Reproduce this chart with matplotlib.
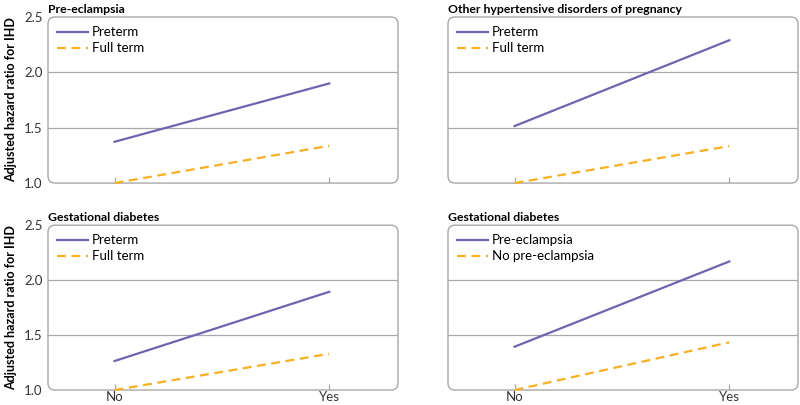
import matplotlib.pyplot as plt
from matplotlib.patches import FancyBboxPatch

plt.rcParams['font.family'] = ['Lato', 'DejaVu Sans']

groups = ["No", "Yes"]
titles = ["Pre-eclampsia", "Other hypertensive disorders of pregnancy",
          "Gestational diabetes", "Gestational diabetes"]
labels_a = ["Preterm", "Preterm", "Preterm", "Pre-eclampsia"]
labels_b = ["Full term", "Full term", "Full term", "No pre-eclampsia"]
series_a = [[1.373, 1.90], [1.515, 2.29], [1.264, 1.894], [1.394, 2.17]]
series_b = [[1.0, 1.337], [1.0, 1.334], [1.0, 1.33], [1.0, 1.434]]
yticks = [1.0, 1.5, 2.0, 2.5]

purple = "#7262b0"
orange = "#f7b024"
grey = "#a8a8a8"

fig = plt.figure(figsize=(8, 4.05), dpi=100)
pos = [
    [0.06, 0.548, 0.4375, 0.41],
    [0.56, 0.548, 0.4375, 0.41],
    [0.06, 0.037, 0.4375, 0.407],
    [0.56, 0.037, 0.4375, 0.407],
]

for k in range(4):
    ax = fig.add_axes(pos[k])
    x = range(len(groups))
    ax.plot(x, series_a[k], color=purple, lw=1.6, label=labels_a[k], clip_on=False, zorder=3)
    ax.plot(x, series_b[k], color=orange, lw=1.6, ls=(0, (4, 2.5)), label=labels_b[k], clip_on=False, zorder=3)
    ax.set_xlim(-0.31, 1.32)
    ax.set_ylim(1.0, 2.5)
    for s in ax.spines.values():
        s.set_visible(False)
    w = pos[k][2] * 800
    h = pos[k][3] * 405
    box = FancyBboxPatch((0, 0), 1, 1, boxstyle="round,pad=0,rounding_size=0.02",
                         mutation_aspect=w / h, transform=ax.transAxes,
                         facecolor="none", edgecolor=grey, lw=1.0, clip_on=False, zorder=2)
    ax.add_patch(box)
    for g in [1.5, 2.0]:
        ax.axhline(g, color=grey, lw=0.9, zorder=1)
    ax.set_xticks(list(x))
    ax.tick_params(axis='x', direction='in', length=4, color=grey, width=0.9,
                   labelsize=9.5, labelcolor="#333333", pad=1)
    if k < 2:
        ax.set_xticklabels([])
    else:
        ax.set_xticklabels(groups)
    ax.set_yticks(yticks)
    if k % 2 == 0:
        ax.set_yticklabels([f"{v:.1f}" for v in yticks])
        ax.tick_params(axis='y', length=0, labelsize=9.5, labelcolor="#333333", pad=4)
        ax.set_ylabel("Adjusted hazard ratio for IHD", fontsize=9, fontweight='bold', labelpad=5)
    else:
        ax.set_yticklabels([])
        ax.tick_params(axis='y', length=0)
    ax.set_title(titles[k], loc='left', fontsize=8.8, fontweight='bold', pad=3, x=0.0)
    ax.legend(loc='upper left', frameon=False, fontsize=9.5, handlelength=2.3,
              handletextpad=0.3, borderaxespad=0.3, labelspacing=0.3)

fig.savefig("out.png", dpi=100)
